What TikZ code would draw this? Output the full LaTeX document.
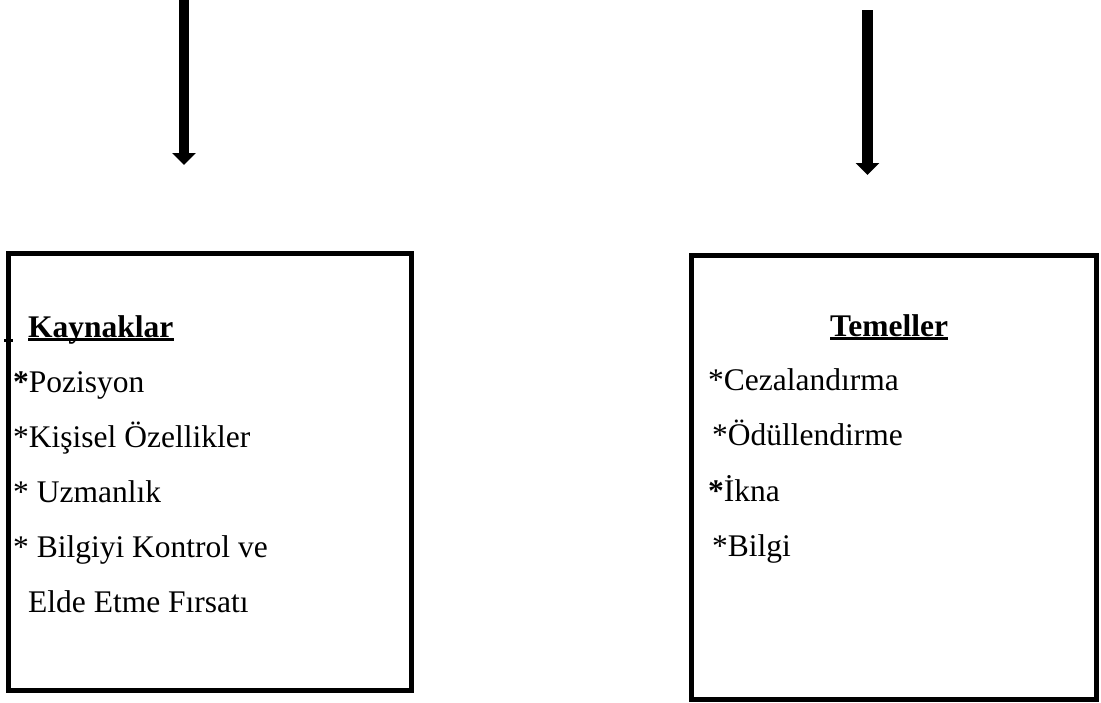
\documentclass[tikz,border=0pt]{standalone}
\usepackage{fontspec}
\setmainfont{Liberation Serif}
\usetikzlibrary{arrows.meta,calc}
\begin{document}
\begin{tikzpicture}[x=1pt,y=-1pt,
  frame/.style={draw=black, line width=5pt, inner sep=0pt},
  bigarrow/.style={line width=10.5pt, -{Triangle[length=12pt,width=23pt]}},
  txt/.style={anchor=base west, inner sep=0pt, font=\fontsize{31.5}{38}\selectfont},
  head/.style={txt, font=\fontsize{31.5}{38}\selectfont\bfseries},
  uline/.style={line width=3pt}]
\useasboundingbox (0,0) rectangle (1101,702);

% the two frames
\node[frame, minimum width=403pt, minimum height=437pt] (kbox) at (210,472) {};
\node[frame, minimum width=404.5pt, minimum height=443.5pt] (tbox) at (893.75,477.25) {};

% downward arrows above the frames
\coordinate (a1s) at (184,0);
\coordinate (a1e) at (184,165);
\coordinate (a2s) at (867.5,10);
\coordinate (a2e) at (867.5,175);
\draw[bigarrow] (a1s) -- (a1e);
\draw[bigarrow] (a2s) -- (a2e);

% small mark on the left frame
\draw[line width=3pt] (4,340.5) -- (13,340.5);

% left frame: sources
\node[head] (kh) at (28,337) {Kaynaklar};
\draw[uline] ($(kh.base west)+(0,2.5)$) -- ($(kh.base east)+(0,2.5)$);
\node[txt] (k1) at (13,392) {\textbf{*}Pozisyon};
\node[txt] (k2) at (13,447) {*Kişisel Özellikler};
\node[txt] (k3) at (13,502) {* Uzmanlık};
\node[txt] (k4) at (13,557) {* Bilgiyi Kontrol ve};
\node[txt] (k5) at (28,612) {Elde Etme Fırsatı};

% right frame: bases
\node[head] (th) at (830,336) {Temeller};
\draw[uline] ($(th.base west)+(0,2.5)$) -- ($(th.base east)+(0,2.5)$);
\node[txt] (t1) at (708,390) {*Cezalandırma};
\node[txt] (t2) at (712,445) {*Ödüllendirme};
\node[txt] (t3) at (708,501) {\textbf{*}İkna};
\node[txt] (t4) at (712,556) {*Bilgi};
\end{tikzpicture}
\end{document}
